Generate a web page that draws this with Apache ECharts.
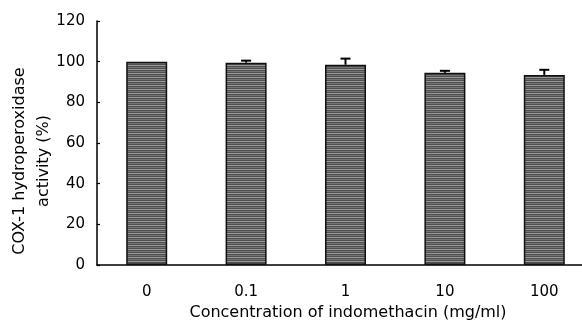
<!DOCTYPE html>
<html>
<head>
<meta charset="utf-8">
<script src="https://cdn.jsdelivr.net/npm/echarts@6/dist/echarts.min.js"></script>
<style>
  html, body { margin: 0; padding: 0; background: #fff; }
  #chart { width: 582px; height: 322px; }
</style>
</head>
<body>
<div id="chart"></div>
<script>
// 数据
const categories = ['0', '0.1', '1', '10', '100'];
const activity = [100, 99.5, 98.5, 94.5, 93.5];
const errors = [0, 1, 3, 1, 2.5];
const yTicks = [0, 20, 40, 60, 80, 100, 120];

const FONT = 'DejaVu Sans, sans-serif';

// 横纹填充，模仿原图的网点
function stripePattern() {
  const c = document.createElement('canvas');
  c.width = 8; c.height = 4;
  const ctx = c.getContext('2d');
  ctx.fillStyle = '#4f4f4f';
  ctx.fillRect(0, 0, 8, 4);
  ctx.fillStyle = '#9a9a9a';
  ctx.fillRect(0, 1, 8, 1);
  ctx.fillStyle = '#747474';
  ctx.fillRect(0, 3, 8, 1);
  return c;
}

const chart = echarts.init(document.getElementById('chart'));

const option = {
  animation: false,
  grid: { left: 97, top: 21, width: 497, height: 244, outerBoundsMode: 'none', containLabel: false },
  xAxis: {
    type: 'category',
    data: categories,
    boundaryGap: true,
    axisLine: { lineStyle: { color: '#000', width: 1.5 } },
    axisTick: { inside: true, length: 4, lineStyle: { color: '#000', width: 1.5 } },
    axisLabel: { color: '#000', fontFamily: FONT, fontSize: 15, margin: 20 },
    name: 'Concentration of indomethacin (mg/ml)',
    nameLocation: 'middle',
    nameGap: 40,
    nameMoveOverlap: false,
    nameTextStyle: { color: '#000', fontFamily: FONT, fontSize: 16, padding: [0, 0, 0, 5] },
  },
  yAxis: {
    type: 'value',
    min: yTicks[0],
    max: yTicks[yTicks.length - 1],
    interval: 20,
    axisLine: { show: true, lineStyle: { color: '#000', width: 1.5 } },
    axisTick: { show: true, inside: true, length: 3, lineStyle: { color: '#000', width: 1.2 } },
    splitLine: { show: false },
    axisLabel: { color: '#000', fontFamily: FONT, fontSize: 15, margin: 12 },
    name: 'COX-1 hydroperoxidase\nactivity (%)',
    nameLocation: 'middle',
    nameGap: 41,
    nameRotate: 90,
    nameMoveOverlap: false,
    nameTextStyle: { color: '#000', fontFamily: FONT, fontSize: 16, lineHeight: 24, padding: [0, 36, 0, 0] },
  },
  series: [
    {
      type: 'bar',
      data: activity,
      barWidth: 41,
      itemStyle: {
        color: { image: stripePattern(), repeat: 'repeat' },
        borderColor: '#111',
        borderWidth: 1.5,
      },
      z: 2,
    },
    {
      type: 'custom',
      z: 3,
      data: activity.map((v, i) => [i, v, errors[i]]),
      renderItem: function (params, api) {
        const err = api.value(2);
        if (!err) return null;
        const top = api.coord([api.value(0), api.value(1) + err]);
        const base = api.coord([api.value(0), api.value(1)]);
        const style = { stroke: '#000', lineWidth: 2 };
        return {
          type: 'group',
          children: [
            { type: 'line', shape: { x1: top[0], y1: top[1], x2: base[0], y2: base[1] }, style: style },
            { type: 'line', shape: { x1: top[0] - 5, y1: top[1], x2: top[0] + 5, y2: top[1] }, style: style },
          ],
        };
      },
    },
  ],
};

chart.setOption(option);
</script>
</body>
</html>
